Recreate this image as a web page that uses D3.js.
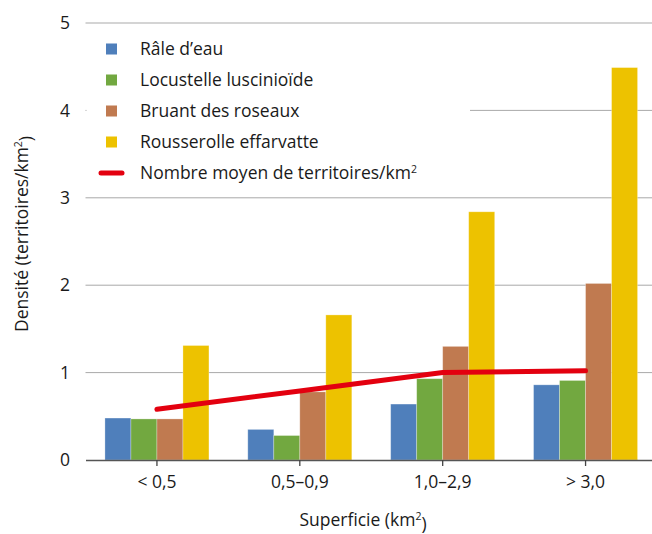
<!DOCTYPE html>
<html>
<head>
<meta charset="utf-8">
<script src="https://cdn.jsdelivr.net/npm/d3@7"></script>
<style>
  html, body { margin: 0; padding: 0; background: #fff; }
  svg { display: block; }
  text { font-family: "Open Sans", "Noto Sans", sans-serif; fill: #1a1a1a; }
</style>
</head>
<body>
<svg id="chart" width="652" height="534"></svg>
<script>
// Surface classes of the reed beds
const categories = ["< 0,5", "0,5–0,9", "1,0–2,9", "> 3,0"];

// Species densities (territories per km²) for each surface class
const speciesNames = ["Râle d’eau", "Locustelle luscinioïde", "Bruant des roseaux", "Rousserolle effarvatte"];
const raleDeau     = [0.48, 0.35, 0.64, 0.86];
const locustelle   = [0.47, 0.28, 0.93, 0.91];
const bruant       = [0.47, 0.78, 1.30, 2.02];
const rousserolle  = [1.31, 1.66, 2.84, 4.49];
const speciesColors = ["#4f7fbb", "#72a840", "#c07a50", "#edc200"];

// Mean number of territories per km²
const meanName = "Nombre moyen de territoires/km²";
const meanValues = [0.58, 0.79, 1.00, 1.02];

const yTicks = [0, 1, 2, 3, 4, 5];

const seriesValues = [raleDeau, locustelle, bruant, rousserolle];

const FS = 17.5;
const svg = d3.select("#chart");
const margin = { left: 85.5, right: -5, top: 23, bottom: 74 };
const W = 652, H = 534;

const x0 = d3.scaleBand()
  .domain(categories)
  .range([margin.left, W - margin.right])
  .paddingInner(0).paddingOuter(0);

const bw = x0.bandwidth();
const groupW = bw * 0.728;
const x1 = d3.scaleBand()
  .domain(d3.range(speciesNames.length))
  .range([(bw - groupW) / 2, (bw + groupW) / 2]);

const y = d3.scaleLinear().domain([0, 5]).range([H - margin.bottom, margin.top]);

// Horizontal gridlines
svg.append("g")
  .selectAll("line")
  .data(yTicks.filter(d => d > 0))
  .join("line")
  .attr("x1", margin.left).attr("x2", W)
  .attr("y1", d => y(d)).attr("y2", d => y(d))
  .attr("stroke", "#a9a9a9").attr("stroke-width", 1);

// Y tick labels
svg.append("g")
  .selectAll("text")
  .data(yTicks)
  .join("text")
  .attr("x", 70).attr("y", d => y(d))
  .attr("dy", "0.35em")
  .attr("text-anchor", "end")
  .attr("font-size", FS)
  .text(d => d);

// Legend panel (white background over the gridlines)
const legend = svg.append("g");
legend.append("rect")
  .attr("x", margin.left + 1).attr("y", 30)
  .attr("width", 470 - margin.left - 1).attr("height", 160)
  .attr("fill", "#fff");

// Bars
const groups = svg.append("g")
  .selectAll("g")
  .data(categories)
  .join("g")
  .attr("transform", c => `translate(${x0(c)},0)`);

groups.selectAll("rect")
  .data((c, ci) => seriesValues.map((vals, si) => ({ si, v: vals[ci] })))
  .join("rect")
  .attr("x", d => x1(d.si))
  .attr("width", x1.bandwidth())
  .attr("y", d => y(d.v))
  .attr("height", d => y(0) - y(d.v))
  .attr("fill", d => speciesColors[d.si])
  .attr("stroke", "rgba(255,255,255,0.35)")
  .attr("stroke-width", 0.8);

// X axis
const xAxis = d3.axisBottom(x0).tickSize(6).tickSizeOuter(0).tickPadding(10);
const gx = svg.append("g")
  .attr("transform", `translate(0,${y(0)})`)
  .call(xAxis);
gx.select(".domain").attr("stroke", "#555").attr("stroke-width", 1.3);
gx.selectAll(".tick line").attr("stroke", "#444").attr("stroke-width", 1.3);
gx.selectAll(".tick text")
  .attr("font-size", FS)
  .attr("fill", "#1a1a1a")
  .attr("font-family", "\"Open Sans\", \"Noto Sans\", sans-serif");

// Mean line
const line = d3.line()
  .x((d, i) => x0(categories[i]) + bw / 2)
  .y(d => y(d));
svg.append("path")
  .datum(meanValues)
  .attr("d", line)
  .attr("fill", "none")
  .attr("stroke", "#e3000f")
  .attr("stroke-width", 5)
  .attr("stroke-linecap", "round");

// Legend entries
const legendItems = speciesNames.map((n, i) => ({ name: n, color: speciesColors[i], type: "rect" }))
  .concat([{ name: meanName, color: "#e3000f", type: "line" }]);
const li = legend.selectAll("g.item")
  .data(legendItems)
  .join("g")
  .attr("class", "item")
  .attr("transform", (d, i) => `translate(0,${49 + i * 31})`);
li.filter(d => d.type === "rect").append("rect")
  .attr("x", 106).attr("y", -5.5).attr("width", 11).attr("height", 11)
  .attr("fill", d => d.color);
li.filter(d => d.type === "line").append("line")
  .attr("x1", 101).attr("x2", 122).attr("y1", 0).attr("y2", 0)
  .attr("stroke", d => d.color).attr("stroke-width", 5).attr("stroke-linecap", "round");
li.append("text")
  .attr("x", 140).attr("dy", "0.35em")
  .attr("font-size", FS)
  .each(function (d) {
    const t = d3.select(this);
    const m = d.name.match(/^(.*)²$/);
    if (m) {
      t.append("tspan").text(m[1]);
      t.append("tspan").attr("font-size", 10.5).attr("dy", "-0.6em").text("2");
    } else {
      t.text(d.name);
    }
  });

// Axis titles
const yTitle = svg.append("text")
  .attr("transform", `translate(28,234) rotate(-90)`)
  .attr("text-anchor", "middle")
  .attr("font-size", FS);
yTitle.append("tspan").text("Densité (territoires/km");
yTitle.append("tspan").attr("font-size", 10.5).attr("dy", "-0.6em").text("2");
yTitle.append("tspan").attr("dy", "0.6em").attr("font-size", FS).text(")");

const xTitle = svg.append("text")
  .attr("x", 363).attr("y", 526)
  .attr("text-anchor", "middle")
  .attr("font-size", FS);
xTitle.append("tspan").text("Superficie (km");
xTitle.append("tspan").attr("font-size", 10.5).attr("dy", "-0.6em").text("2");
xTitle.append("tspan").attr("dy", "0.6em").attr("font-size", FS).text(")");
</script>
</body>
</html>
